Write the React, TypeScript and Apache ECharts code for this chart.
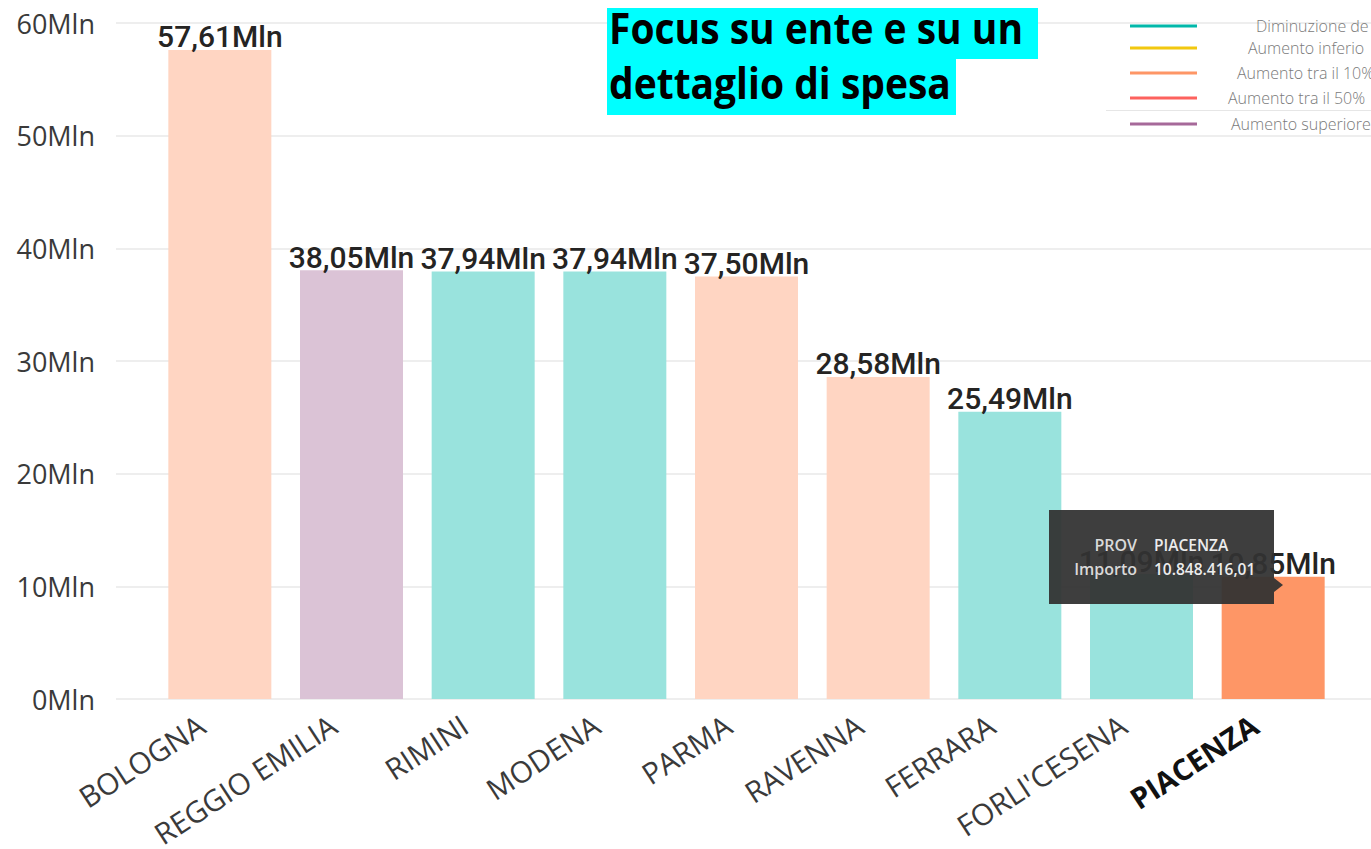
import React, { useEffect, useRef } from "react";
import * as echarts from "echarts";

const categories = ["BOLOGNA", "REGGIO EMILIA", "RIMINI", "MODENA", "PARMA", "RAVENNA", "FERRARA", "FORLI'CESENA", "PIACENZA"];
const values = [57.61, 38.05, 37.94, 37.94, 37.5, 28.58, 25.49, 11.09, 10.848416];
// index into legend groups
const groupOf = [2, 4, 0, 0, 2, 2, 0, 0, 2];
const highlighted = "PIACENZA";

const legendLabels = ["Diminuzione de", "Aumento inferio", "Aumento tra il 10%", "Aumento tra il 50%", "Aumento superiore"];
const legendColors = ["#01B8AA", "#F2C80F", "#FE9666", "#FD625E", "#A66999"];

const yTicks = { min: 0, max: 60, interval: 10 };

const tooltipRows = [
  ["PROV", "PIACENZA"],
  ["Importo", "10.848.416,01"],
];

const titleLines = ["Focus su ente e su un", "dettaglio di spesa"];

function fade(hex: string, a: number) {
  const r = parseInt(hex.slice(1, 3), 16);
  const g = parseInt(hex.slice(3, 5), 16);
  const b = parseInt(hex.slice(5, 7), 16);
  const m = (c: number) => Math.round(255 * (1 - a) + c * a);
  return `rgb(${m(r)},${m(g)},${m(b)})`;
}

export default function App() {
  const ref = useRef<HTMLDivElement>(null);
  useEffect(() => {
    if (!ref.current) return;
    const chart = echarts.init(ref.current, null, { renderer: "svg" });

    const legendY = [26, 48, 73, 98, 124];
    const legendTextX = [1256, 1248, 1237, 1228, 1231];
    const legendGraphics: any[] = [];
    legendLabels.forEach((lab, i) => {
      legendGraphics.push({
        type: "line",
        shape: { x1: 1130, y1: legendY[i], x2: 1197, y2: legendY[i] },
        style: { stroke: legendColors[i], lineWidth: 3 },
        z: 50,
      });
      legendGraphics.push({
        type: "text",
        x: legendTextX[i],
        y: legendY[i],
        style: {
          text: lab,
          fill: "#7a7a7a",
          font: "300 16px 'Open Sans'",
          textVerticalAlign: "middle",
        },
        z: 50,
      });
    });
    legendGraphics.push({
      type: "line",
      shape: { x1: 1106, y1: 110.5, x2: 1371, y2: 110.5 },
      style: { stroke: "#e6e6e6", lineWidth: 1 },
      z: 50,
    });

    const titleGraphics: any[] = [
      { type: "rect", shape: { x: 607, y: 8, width: 431, height: 51 }, style: { fill: "#00FFFF" }, z: 60 },
      { type: "rect", shape: { x: 607, y: 58, width: 349, height: 57 }, style: { fill: "#00FFFF" }, z: 60 },
      {
        type: "text", x: 609, y: 49, scaleY: 1.12,
        style: { text: titleLines[0], fill: "#000", font: "bold 39px 'Open Sans'", textVerticalAlign: "bottom" },
        z: 61,
      },
      {
        type: "text", x: 609, y: 104, scaleY: 1.12,
        style: { text: titleLines[1], fill: "#000", font: "bold 39px 'Open Sans'", textVerticalAlign: "bottom" },
        z: 61,
      },
    ];

    const tipGraphics: any[] = [
      { type: "rect", shape: { x: 1049, y: 510, width: 225, height: 94 }, style: { fill: "rgba(50,50,50,0.94)" }, z: 70 },
      { type: "polygon", shape: { points: [[1274, 578], [1283, 585], [1274, 592]] }, style: { fill: "rgba(50,50,50,0.94)" }, z: 70 },
    ];
    tooltipRows.forEach((row, i) => {
      const y = 545 + i * 24;
      tipGraphics.push({
        type: "text", x: 1137, y,
        style: { text: row[0], fill: "#d9d9d9", font: "600 16px 'Open Sans'", textAlign: "right", textVerticalAlign: "middle" },
        z: 71,
      });
      tipGraphics.push({
        type: "text", x: 1154, y,
        style: { text: row[1], fill: "#ececec", font: "600 15.5px 'Open Sans'", textAlign: "left", textVerticalAlign: "middle" },
        z: 71,
      });
    });

    chart.setOption({
      animation: false,
      backgroundColor: "#ffffff",
      grid: [
        { left: 116, right: 0, top: 23, bottom: 150, outerBoundsMode: "none", containLabel: false },
        { left: 154, right: 32, top: 23, bottom: 150, outerBoundsMode: "none", containLabel: false },
      ],
      xAxis: [
        { gridIndex: 0, type: "category", data: [], show: false },
        {
          gridIndex: 1,
          type: "category",
          data: categories,
          axisLine: { show: false },
          axisTick: { show: false },
          axisLabel: {
            rotate: 33,
            interval: 0,
            margin: 11,
            padding: [0, 22, 0, 0],
            fontFamily: "'Open Sans'",
            fontSize: 29.5,
            color: "#3a3a3a",
            formatter: (v: string) => (v === highlighted ? `{b|${v}}` : v),
            rich: {
              b: { fontFamily: "'Open Sans'", fontSize: 29.5, fontWeight: "bold", color: "#111" },
            },
          },
        },
      ],
      yAxis: [
        {
          gridIndex: 0,
          type: "value",
          min: yTicks.min,
          max: yTicks.max,
          interval: yTicks.interval,
          axisLine: { show: false },
          axisTick: { show: false },
          axisLabel: {
            formatter: (v: number) => `${v}Mln`,
            margin: 21,
            fontFamily: "'Open Sans'",
            fontSize: 27,
            color: "#3a3a3a",
          },
          splitLine: { lineStyle: { color: "#eeeeee", width: 2 } },
        },
        {
          gridIndex: 1,
          type: "value",
          min: yTicks.min,
          max: yTicks.max,
          interval: yTicks.interval,
          show: false,
          splitLine: { show: false },
        },
      ],
      series: [
        {
          type: "bar",
          xAxisIndex: 1,
          yAxisIndex: 1,
          barWidth: 103,
          data: values.map((v, i) => ({
            value: v,
            itemStyle: {
              color: categories[i] === highlighted ? legendColors[groupOf[i]] : fade(legendColors[groupOf[i]], 0.4),
            },
          })),
          label: {
            show: true,
            position: "top",
            distance: -2,
            fontFamily: "Roboto",
            fontWeight: 500,
            fontSize: 30,
            color: "#252423",
            formatter: (p: any) => `${Number(p.value).toFixed(2).replace(".", ",")}Mln`,
          },
        },
      ],
      graphic: [...legendGraphics, ...titleGraphics, ...tipGraphics],
    });
    return () => chart.dispose();
  }, []);
  return (
    <div
      ref={ref}
      style={{ position: "fixed", left: 0, top: 0, width: 1371, height: 849, background: "#fff" }}
    />
  );
}
